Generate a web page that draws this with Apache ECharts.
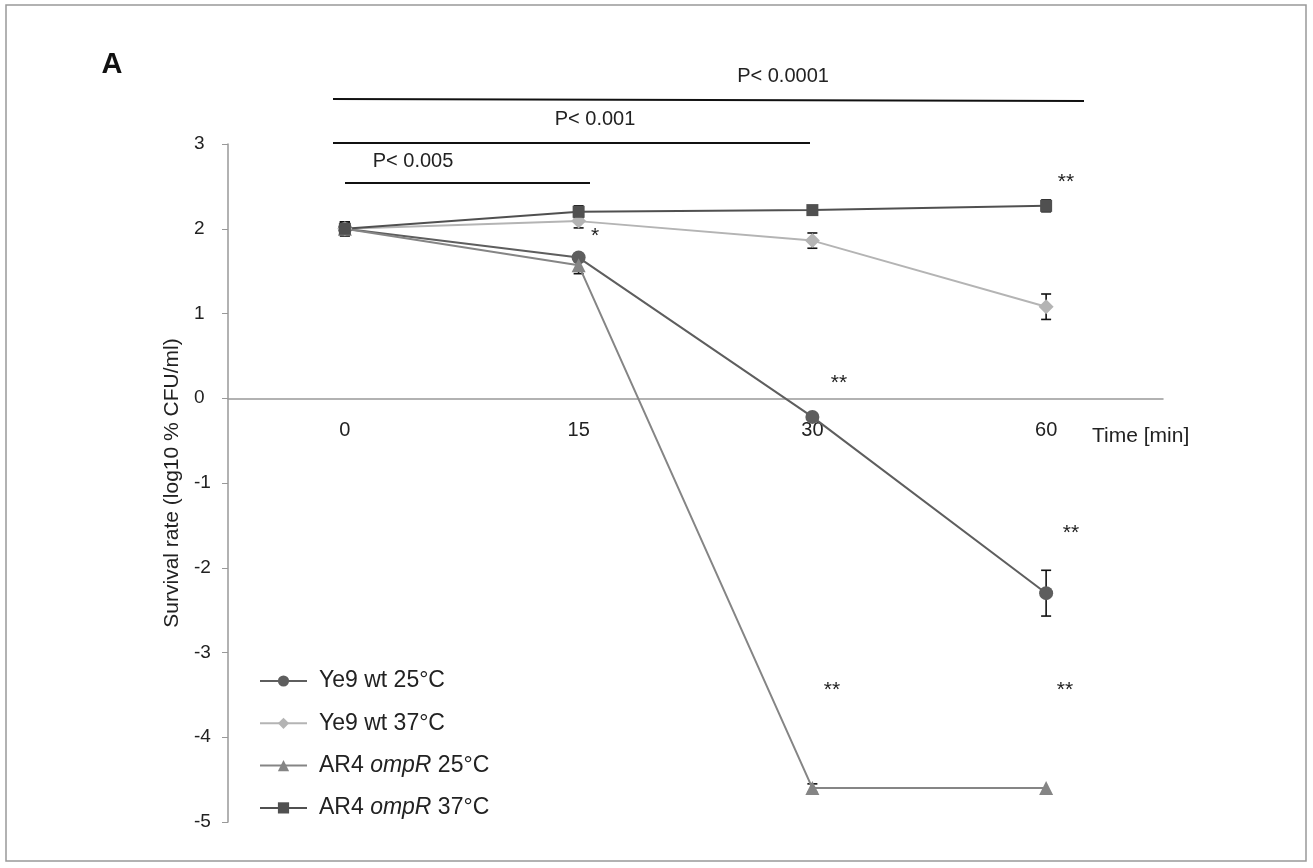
<!DOCTYPE html>
<html><head><meta charset="utf-8">
<script src="https://cdn.jsdelivr.net/npm/echarts@6/dist/echarts.min.js"></script>
<style>html,body{margin:0;padding:0;background:#fff}#c{width:1313px;height:868px}</style>
</head><body><div id="c"></div>
<script>
const categories = ['0', '15', '30', '60'];
const yTicks = [-5, -4, -3, -2, -1, 0, 1, 2, 3];
const seriesNames = ['Ye9 wt 25°C', 'Ye9 wt 37°C', 'AR4 ompR 25°C', 'AR4 ompR 37°C'];
const ye9_25 = [2.0, 1.66, -0.22, -2.30];
const ye9_25_err = [0.08, 0.04, 0.0, 0.27];
const ye9_37 = [2.0, 2.09, 1.86, 1.08];
const ye9_37_err = [0.08, 0.08, 0.09, 0.15];
const ar4_25 = [2.0, 1.57, -4.60, -4.60];
const ar4_25_err = [0.08, 0.10, 0.05, 0.0];
const ar4_37 = [2.0, 2.20, 2.22, 2.27];
const ar4_37_err = [0.08, 0.07, 0.03, 0.07];

const FONT = 'Liberation Sans, Arial, sans-serif';
const Y_MIN = -5, Y_MAX = 3;
const GRID = { left: 228, right: 150, top: 144, bottom: 46 };
const gridH = 868 - GRID.top - GRID.bottom;
const zeroOffset = -gridH * (0 - Y_MIN) / (Y_MAX - Y_MIN);

const chart = echarts.init(document.getElementById('c'));

function errData(vals, errs) {
  const out = [];
  vals.forEach((v, i) => { if (errs[i] > 0) out.push([i, v - errs[i], v + errs[i]]); });
  return out;
}
function errSeries(vals, errs) {
  return {
    type: 'custom', silent: true, z: 2,
    data: errData(vals, errs),
    renderItem: function (params, api) {
      const lo = api.coord([api.value(0), api.value(1)]);
      const hi = api.coord([api.value(0), api.value(2)]);
      const w = 5;
      const st = { stroke: '#111', lineWidth: 1.6 };
      return { type: 'group', children: [
        { type: 'line', shape: { x1: lo[0], y1: lo[1], x2: hi[0], y2: hi[1] }, style: st },
        { type: 'line', shape: { x1: lo[0] - w, y1: lo[1], x2: lo[0] + w, y2: lo[1] }, style: st },
        { type: 'line', shape: { x1: hi[0] - w, y1: hi[1], x2: hi[0] + w, y2: hi[1] }, style: st }
      ]};
    }
  };
}
function lineSeries(name, vals, color, symbol, size) {
  return {
    name: name, type: 'line', data: vals, symbol: symbol, symbolSize: size,
    lineStyle: { color: color, width: 2 }, itemStyle: { color: color },
    z: 3
  };
}

const txt = (x, y, t, size) => ({
  type: 'text', x: x, y: y,
  style: { text: t, font: size + 'px ' + FONT, fill: '#222', textAlign: 'center', textVerticalAlign: 'middle' }
});
const hline = (x1, y1, x2, y2) => ({ type: 'line', shape: { x1, y1, x2, y2 }, style: { stroke: '#111', lineWidth: 2 } });

chart.setOption({
  animation: false,
  backgroundColor: '#fff',
  grid: GRID,
  legend: {
    orient: 'vertical', left: 254, top: 664,
    itemWidth: 47, itemHeight: 14, itemGap: 18.3,
    data: seriesNames,
    formatter: function (n) { return n.replace('ompR', '{i|ompR}'); },
    textStyle: { fontFamily: FONT, fontSize: 23, lineHeight: 24, color: '#222', padding: [0, 0, 0, 7],
      rich: { i: { fontFamily: FONT, fontSize: 23, lineHeight: 24, fontStyle: 'italic', color: '#222' } } }
  },
  xAxis: {
    type: 'category', data: categories, boundaryGap: true, offset: zeroOffset,
    axisLine: { onZero: false, lineStyle: { color: '#999', width: 1.5 } },
    axisTick: { alignWithLabel: true, length: 6, lineStyle: { color: '#999' } },
    axisLabel: { margin: 22, fontFamily: FONT, fontSize: 20, color: '#222' },
    splitLine: { show: false }
  },
  yAxis: {
    type: 'value', min: Y_MIN, max: Y_MAX, interval: 1,
    name: 'Survival rate (log10 % CFU/ml)', nameLocation: 'middle', nameGap: 43,
    nameTextStyle: { fontFamily: FONT, fontSize: 21, color: '#222' },
    axisLine: { show: true, lineStyle: { color: '#999', width: 1.5 } },
    axisTick: { show: true, length: 6, lineStyle: { color: '#999' } },
    axisLabel: { margin: 34, align: 'left', fontFamily: FONT, fontSize: 19, color: '#222',
      formatter: function (v) { return yTicks.indexOf(v) >= 0 ? String(v) : ''; } },
    splitLine: { show: false }
  },
  series: [
    lineSeries(seriesNames[0], ye9_25, '#5e5e5e', 'circle', 14),
    lineSeries(seriesNames[1], ye9_37, '#b4b4b4', 'diamond', 15),
    lineSeries(seriesNames[2], ar4_25, '#858585', 'triangle', 14),
    lineSeries(seriesNames[3], ar4_37, '#505050', 'rect', 12),
    errSeries(ye9_25, ye9_25_err),
    errSeries(ye9_37, ye9_37_err),
    errSeries(ar4_25, ar4_25_err),
    errSeries(ar4_37, ar4_37_err)
  ],
  graphic: [
    { type: 'rect', shape: { x: 6, y: 5, width: 1300, height: 856 }, style: { fill: 'none', stroke: '#999', lineWidth: 1.5 } },
    { type: 'text', x: 112, y: 65, style: { text: 'A', font: 'bold 29px ' + FONT, fill: '#111', textAlign: 'center', textVerticalAlign: 'middle' } },
    hline(333, 99, 1084, 101),
    txt(783, 76, 'P< 0.0001', 20),
    hline(333, 143, 810, 143),
    txt(595, 119, 'P< 0.001', 20),
    hline(345, 183, 590, 183),
    txt(413, 161, 'P< 0.005', 20),
    txt(595, 236, '*', 21),
    txt(1066, 182, '**', 21),
    txt(839, 383, '**', 21),
    txt(1071, 533, '**', 21),
    txt(832, 690, '**', 21),
    txt(1065, 690, '**', 21),
    { type: 'text', x: 1092, y: 436, style: { text: 'Time [min]', font: '21px ' + FONT, fill: '#222', textVerticalAlign: 'middle' } }
  ]
});
</script></body></html>
